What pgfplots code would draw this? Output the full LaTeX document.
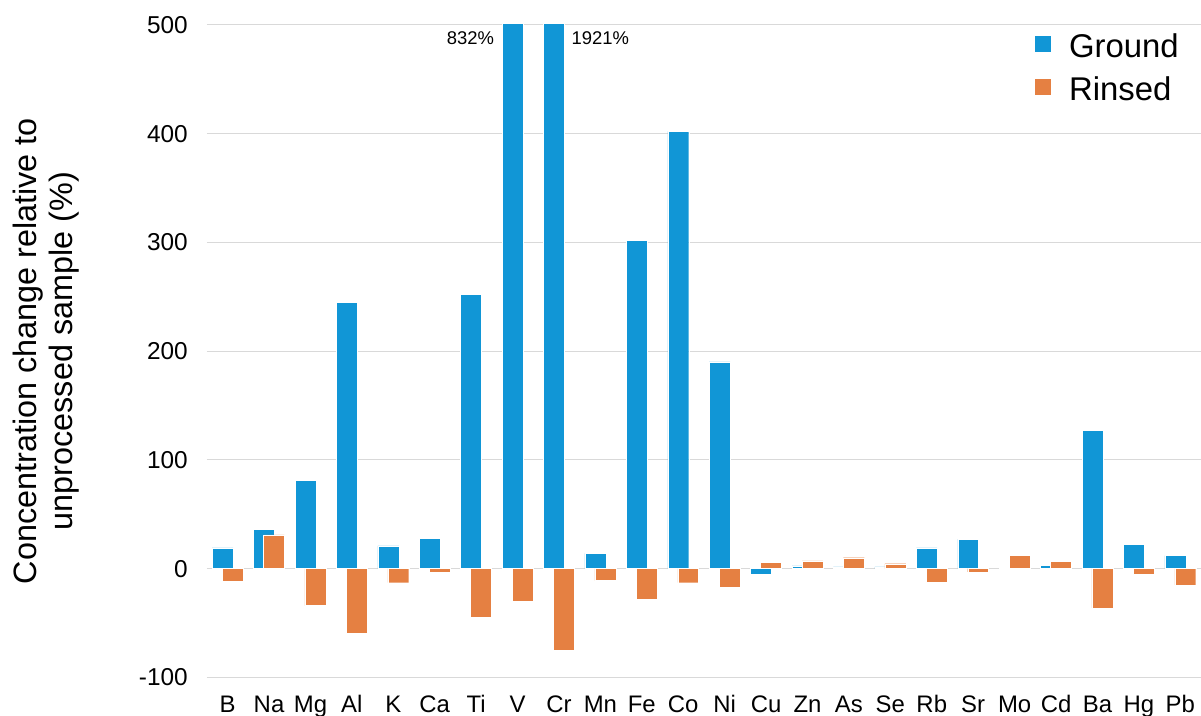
\documentclass[border=0pt]{standalone}
\usepackage{fontspec}
\setmainfont{Liberation Sans}
\usepackage{pgfplots}
\usepackage{pgfplotstable}
\pgfplotsset{compat=1.18}
\definecolor{cground}{RGB}{17,150,214}
\definecolor{crinsed}{RGB}{229,128,66}
\definecolor{cgrid}{RGB}{217,217,217}
\pgfplotstableread{
idx name ground rinsed
0 B 19 -12
1 Na 36 31
2 Mg 81 -34
3 Al 245 -59
4 K 21 -13
5 Ca 28 -3.5
6 Ti 252 -45
7 V 832 -30
8 Cr 1921 -75
9 Mn 14 -11
10 Fe 302 -28
11 Co 402 -13
12 Ni 190 -17
13 Cu -5 6
14 Zn 2.5 7
15 As 1.5 10
16 Se 1.5 4.5
17 Rb 19 -12.5
18 Sr 27 -3
19 Mo 0 12
20 Cd 3 6.5
21 Ba 127 -36
22 Hg 22 -5
23 Pb 12 -15
}\datatable
\begin{document}
\begin{tikzpicture}
\begin{axis}[
  scale only axis,
  width=998pt, height=655pt,
  xmin=-0.5, xmax=23.5,
  ymin=-100, ymax=500,
  ytick={-100,0,100,200,300,400,500},
  xtick=data,
  xticklabels={B,Na,Mg,Al,K,Ca,Ti,V,Cr,Mn,Fe,Co,Ni,Cu,Zn,As,Se,Rb,Sr,Mo,Cd,Ba,Hg,Pb},
  axis line style={draw=none},
  major tick length=0pt,
  ymajorgrids,
  grid style={cgrid, line width=1.2pt},
  /pgf/number format/assume math mode=true,
  yticklabel style={font=\fontsize{24.5}{24.5}\selectfont, anchor=east, inner sep=0pt, xshift=-19pt},
  xticklabel style={font=\fontsize{24}{24}\selectfont, anchor=base, inner sep=0pt, yshift=-35pt},
  ylabel={Concentration change relative to\\unprocessed sample (\%)},
  ylabel style={font=\fontsize{32.5}{36}\selectfont, align=center, at={(axis description cs:-0.162,0.5)}, anchor=center},
  ybar,
  bar width=21pt,
  legend style={draw=none, fill=none, inner sep=0pt, at={(axis description cs:0.833,0.9871)}, anchor=north west,
    font=\fontsize{33}{33}\selectfont, row sep=12pt,
    nodes={inner sep=0pt, text height=24pt, text depth=7pt},
    /tikz/every odd column/.append style={column sep=18pt}},
  legend cell align=left,
  legend image code/.code={\fill[#1, draw=none] (0pt,-3pt) rectangle (16pt,13pt);},
]
\addplot[fill=cground, draw=white, line width=0.4pt, bar shift=-5pt] table[x=idx, y=ground] {\datatable};
\addlegendentry{Ground}
\addplot[fill=crinsed, draw=white, line width=0.4pt, bar shift=5pt] table[x=idx, y=rinsed] {\datatable};
\addlegendentry{Rinsed}
\node[anchor=base east, inner sep=0pt, font=\fontsize{18.5}{18.5}\selectfont] at ([xshift=-8pt, yshift=-20pt]axis cs:6.627,500) {832\%};
\node[anchor=base west, inner sep=0pt, font=\fontsize{18.5}{18.5}\selectfont] at ([xshift=7pt, yshift=-20pt]axis cs:8.132,500) {1921\%};
\end{axis}
\pgfresetboundingbox
\path (current axis.south west) +(-207.7pt,-38pt) (current axis.north east) +(-4.8pt,25pt);
\end{tikzpicture}
\end{document}
